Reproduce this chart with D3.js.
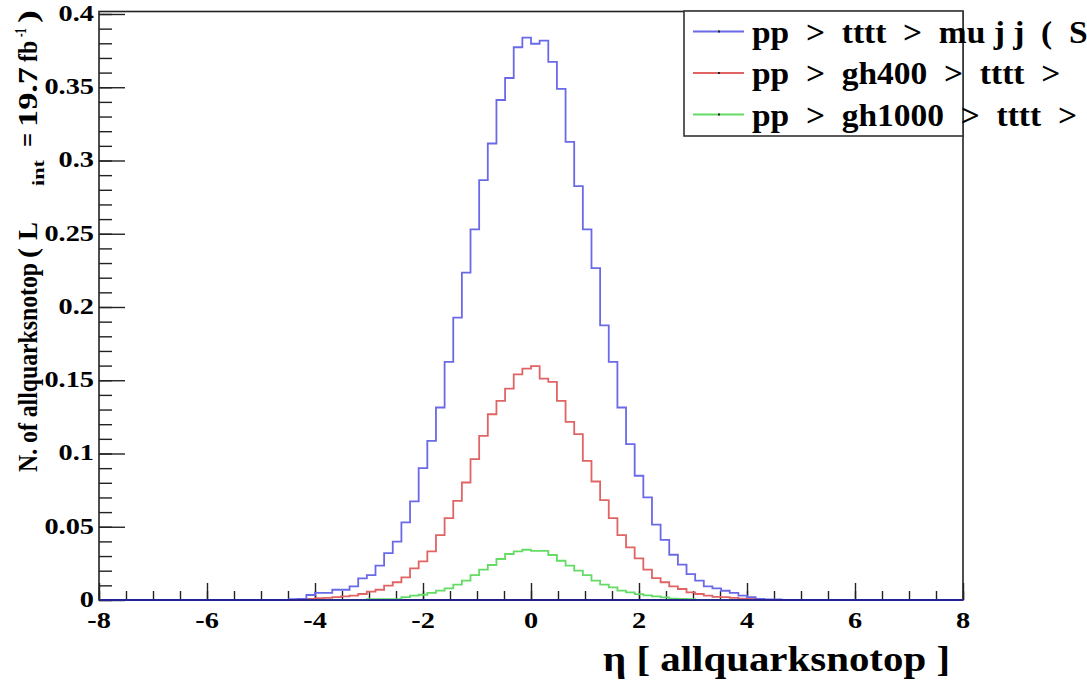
<!DOCTYPE html>
<html>
<head>
<meta charset="utf-8">
<script src="https://cdn.jsdelivr.net/npm/d3@7"></script>
<style>
  body { margin: 0; background: #fff; }
  svg { display: block; }
  text { font-family: "Liberation Serif", "Times New Roman", serif; font-weight: bold; fill: #000; }
</style>
</head>
<body>
<svg id="chart" width="1087" height="684"></svg>
<script>
// Histogram binning: 100 bins of eta from -8 to 8
const etaRange = [-8, 8];
const nBins = 100;

// Normalised bin contents, one value per bin
const ttttSM = [
  0, 0, 0, 0, 0, 0, 0, 0, 0, 0,
  0, 0, 0, 0, 0, 0, 0, 0, 0, 0,
  0, 0, 0.0005, 0.0008, 0.0034, 0.0048, 0.0048, 0.007, 0.007, 0.0093,
  0.0148, 0.017, 0.0234, 0.032, 0.0398, 0.053, 0.0673, 0.090, 0.1086, 0.1314,
  0.1625, 0.1927, 0.2234, 0.253, 0.2866, 0.3116, 0.3413, 0.3563, 0.3773, 0.3838,
  0.3797, 0.3818, 0.3673, 0.3489, 0.3127, 0.2825, 0.253, 0.2266, 0.1875, 0.1625,
  0.1314, 0.1064, 0.0848, 0.070, 0.0514, 0.0411, 0.0309, 0.0241, 0.0177, 0.0132,
  0.0093, 0.008, 0.0063, 0.0048, 0.003, 0.002, 0.0008, 0.0004, 0.0004, 0,
  0, 0, 0, 0, 0, 0, 0, 0, 0, 0,
  0, 0, 0, 0, 0, 0, 0, 0, 0, 0
];
const gh400 = [
  0, 0, 0, 0, 0, 0, 0, 0, 0, 0,
  0, 0, 0, 0, 0, 0, 0, 0, 0, 0,
  0, 0, 0, 0, 0.0008, 0.0012, 0.0015, 0.002, 0.0025, 0.003,
  0.0041, 0.0057, 0.007, 0.0098, 0.0121, 0.0155, 0.0216, 0.0264, 0.0332, 0.0443,
  0.0559, 0.0677, 0.0802, 0.0961, 0.112, 0.1268, 0.1359, 0.1443, 0.154, 0.158,
  0.1597, 0.1511, 0.1489, 0.1359, 0.1216, 0.1132, 0.095, 0.0809, 0.0682, 0.0559,
  0.0443, 0.0359, 0.0284, 0.0207, 0.015, 0.0121, 0.0093, 0.0075, 0.0052, 0.0041,
  0.003, 0.0022, 0.002, 0.0015, 0.001, 0.0008, 0.0005, 0, 0, 0,
  0, 0, 0, 0, 0, 0, 0, 0, 0, 0,
  0, 0, 0, 0, 0, 0, 0, 0, 0, 0
];
const gh1000 = [
  0, 0, 0, 0, 0, 0, 0, 0, 0, 0,
  0, 0, 0, 0, 0, 0, 0, 0, 0, 0,
  0, 0, 0, 0, 0, 0, 0, 0, 0, 0,
  0, 0.0005, 0.0005, 0.0005, 0.0005, 0.002, 0.003, 0.0036, 0.0048, 0.0064,
  0.008, 0.0105, 0.0132, 0.017, 0.0207, 0.0239, 0.028, 0.0314, 0.0332, 0.0343,
  0.0336, 0.0336, 0.0307, 0.0268, 0.0234, 0.020, 0.017, 0.0132, 0.0105, 0.0086,
  0.0064, 0.0052, 0.004, 0.0032, 0.0025, 0.0018, 0.001, 0.0008, 0.0005, 0,
  0, 0, 0, 0, 0, 0, 0, 0, 0, 0,
  0, 0, 0, 0, 0, 0, 0, 0, 0, 0,
  0, 0, 0, 0, 0, 0, 0, 0, 0, 0
];

const seriesNames = [
  "pp  >  tttt  >  mu j j  (  SM )",
  "pp  >  gh400  >  tttt  >     mu j j",
  "pp  >  gh1000  >  tttt  >  mu j j"
];
const seriesColors = ["#6a6ae8", "#e06464", "#64dc64"];

const xTickValues = [-8, -6, -4, -2, 0, 2, 4, 6, 8];
const yTickValues = [0, 0.05, 0.1, 0.15, 0.2, 0.25, 0.3, 0.35, 0.4];
const yTickLabels = ["0", "0.05", "0.1", "0.15", "0.2", "0.25", "0.3", "0.35", "0.4"];
const xTitle = "\u03b7 [ allquarksnotop ]";

// y title pieces: text, [lower, upper] extent along the axis (page y), size, baseline shift
const yTitleParts = [
  ["N. of allquarksnotop", [472, 263], 24, 0],
  ["(", [258, 248], 24, 0],
  ["L", [240, 222], 24, 0],
  ["int", [186, 160], 14, 6],
  ["=", [147, 133], 24, 0],
  ["19.7", [127, 67], 24, 0],
  ["fb", [62, 41], 24, 0],
  ["-1", [37, 28], 14, -9],
  [")", [23, 10], 24, 0]
];

// ---- layout ----
const svg = d3.select("#chart");
svg.append("rect").attr("width", 1087).attr("height", 684).attr("fill", "#fff");

const frame = { left: 99, right: 963, top: 11.5, bottom: 600 };
const yMax = 0.4017;
const x = d3.scaleLinear().domain(etaRange).range([frame.left, frame.right]);
const y = d3.scaleLinear().domain([0, yMax]).range([frame.bottom, frame.top]);

const binWidth = (etaRange[1] - etaRange[0]) / nBins;
const edges = d3.range(nBins + 1).map(i => etaRange[0] + i * binWidth);

// horizontally widened serif labels
function label(g, txt, px, py, anchor, size, sx) {
  return g.append("text")
    .attr("transform", `translate(${px},${py}) scale(${sx},1)`)
    .attr("text-anchor", anchor)
    .attr("font-size", size)
    .text(txt);
}

// ---- histograms (step outlines) ----
const step = d3.line()
  .x(d => x(d[0]))
  .y(d => y(d[1]))
  .curve(d3.curveStepAfter);

function histPoints(vals) {
  const pts = vals.map((v, i) => [edges[i], v]);
  pts.push([edges[nBins], vals[nBins - 1]]);
  return pts;
}

const hists = [gh1000, gh400, ttttSM];
const histColors = [seriesColors[2], seriesColors[1], seriesColors[0]];

// frame
svg.append("rect")
  .attr("x", frame.left).attr("y", frame.top)
  .attr("width", frame.right - frame.left).attr("height", frame.bottom - frame.top)
  .attr("fill", "none").attr("stroke", "#222").attr("stroke-width", 1.6);

const gAxes = svg.append("g");

// x axis: major and minor ticks pointing into the frame
const xAxisMajor = d3.axisBottom(x).tickValues(xTickValues).tickSize(-17).tickFormat("").tickSizeOuter(0);
const xAxisMinor = d3.axisBottom(x).tickValues(d3.range(-8, 8.01, 0.5)).tickSize(-9).tickFormat("").tickSizeOuter(0);
[xAxisMinor, xAxisMajor].forEach(ax => {
  const g = gAxes.append("g").attr("transform", `translate(0,${frame.bottom})`).call(ax);
  g.select(".domain").remove();
  g.selectAll("line").attr("stroke", "#222").attr("stroke-width", 1.4);
});

// y axis
const yAxisMajor = d3.axisLeft(y).tickValues(yTickValues).tickSize(-26).tickFormat("").tickSizeOuter(0);
const yAxisMinor = d3.axisLeft(y).tickValues(d3.range(0, 0.4001, 0.01)).tickSize(-13).tickFormat("").tickSizeOuter(0);
[yAxisMinor, yAxisMajor].forEach(ax => {
  const g = gAxes.append("g").attr("transform", `translate(${frame.left},0)`).call(ax);
  g.select(".domain").remove();
  g.selectAll("line").attr("stroke", "#222").attr("stroke-width", 1.4);
});

// histogram outlines
hists.forEach((h, i) => {
  svg.append("path")
    .attr("d", step(histPoints(h)))
    .attr("fill", "none")
    .attr("stroke", histColors[i])
    .attr("stroke-width", 1.8);
});

// bottom edge where all histograms sit at zero
svg.append("line")
  .attr("x1", frame.left).attr("x2", frame.right)
  .attr("y1", frame.bottom).attr("y2", frame.bottom)
  .attr("stroke", "#1c1c8c").attr("stroke-width", 2.2).attr("opacity", 0.9);

// tick labels
const gLab = svg.append("g");
xTickValues.forEach(v => label(gLab, String(v), x(v), 628, "middle", 24, 1.18));
yTickValues.forEach((v, i) => label(gLab, yTickLabels[i], 94, y(v) + 7, "end", 24, 1.18));

// x title
svg.append("text")
  .attr("x", 603).attr("y", 671)
  .attr("font-size", 36)
  .attr("textLength", 347).attr("lengthAdjust", "spacingAndGlyphs")
  .text(xTitle);

// y title, rotated; each piece placed along the axis
const gYT = svg.append("g").attr("transform", "translate(37,0) scale(1.18,1) rotate(-90)");
yTitleParts.forEach(([txt, [lo, hi], size, shift]) => {
  gYT.append("text")
    .attr("x", -lo).attr("y", shift)
    .attr("font-size", size)
    .attr("textLength", lo - hi).attr("lengthAdjust", "spacingAndGlyphs")
    .text(txt);
});

// legend
const leg = { x0: 684, x1: 963, y0: 11, y1: 136 };
svg.append("rect")
  .attr("x", leg.x0).attr("y", leg.y0)
  .attr("width", leg.x1 - leg.x0).attr("height", leg.y1 - leg.y0)
  .attr("fill", "#fff").attr("stroke", "#333").attr("stroke-width", 1.6);

const rowY = [31.5, 73, 114.5];
seriesNames.forEach((name, i) => {
  svg.append("line")
    .attr("x1", 693).attr("x2", 744)
    .attr("y1", rowY[i]).attr("y2", rowY[i])
    .attr("stroke", seriesColors[i]).attr("stroke-width", 1.8);
  svg.append("rect")
    .attr("x", 718).attr("y", rowY[i] - 1).attr("width", 2).attr("height", 2)
    .attr("fill", "#222");
  svg.append("text")
    .attr("transform", `translate(752,${rowY[i] + 11}) scale(1.08,1)`)
    .attr("font-size", 31)
    .attr("xml:space", "preserve")
    .style("white-space", "pre")
    .text(name);
});
</script>
</body>
</html>
